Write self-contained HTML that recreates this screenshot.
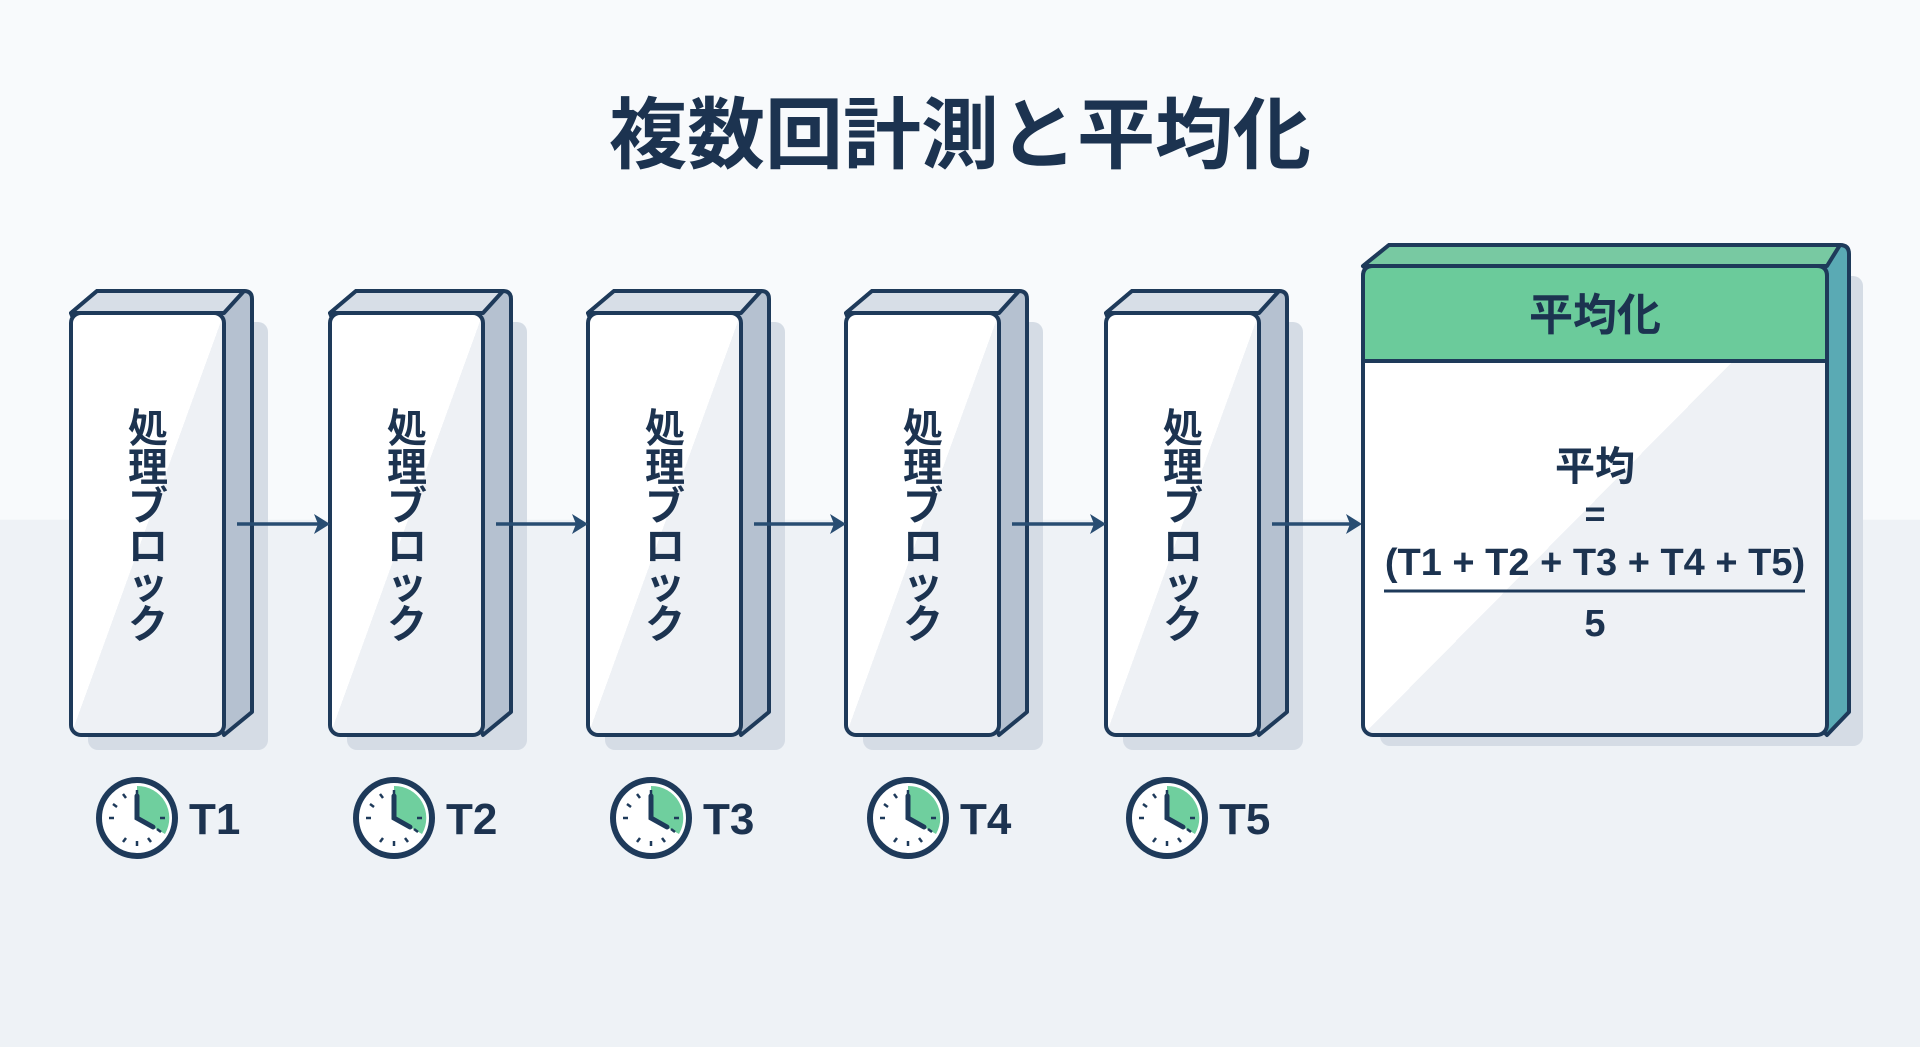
<!DOCTYPE html>
<html><head><meta charset="utf-8"><style>
html,body{margin:0;padding:0;width:1920px;height:1047px;overflow:hidden;}
body{background:linear-gradient(#f8fafc 0,#f8fafc 520px,#eef2f6 520px,#eef2f6 100%);}
text{font-family:"Liberation Sans","Noto Sans CJK JP",sans-serif;font-weight:bold;fill:#1c3350;}
</style></head><body>
<svg width="1920" height="1047" viewBox="0 0 1920 1047" xmlns="http://www.w3.org/2000/svg">
<defs>
<linearGradient id="g" x1="0" y1="0" x2="1" y2="1">
<stop offset="0.5" stop-color="#ffffff"/><stop offset="0.5" stop-color="#eef1f5"/></linearGradient>
<g id="blk">
<rect x="88" y="322" width="180" height="428" fill="#d5dce5" rx="10"/>
<path d="M71,313 L97,291 L244,291 Q252,291 252,299 L252,712 L224,735 Z" fill="#b5c1d0" stroke="#1e3a5a" stroke-width="4" stroke-linejoin="round"/>
<path d="M71,313 L97,291 L244,291 L224,313 Z" fill="#d7dee7" stroke="#1e3a5a" stroke-width="4" stroke-linejoin="round"/>
<rect x="71" y="313" width="153" height="422" rx="10" fill="url(#g)" stroke="#1e3a5a" stroke-width="4"/>
<g font-size="40" text-anchor="middle">
<text x="148" y="442">処</text><text x="148" y="481">理</text><text x="148" y="520">ブ</text><text x="148" y="560">ロ</text><text x="148" y="598">ッ</text><text x="148" y="638">ク</text>
</g>
</g>
<g id="clk">
<circle r="38" fill="#fff" stroke="#1e3a5a" stroke-width="6"/>
<path d="M0,0 L0,-32 A32,32 0 0 1 28,16 Z" fill="#6fcf9e"/>
<g stroke="#1e3a5a" stroke-width="2.5"><line x1="0" y1="-28" x2="0" y2="-23"/><line x1="28" y1="0" x2="23" y2="0"/><line x1="0" y1="28" x2="0" y2="23"/><line x1="-28" y1="0" x2="-23" y2="0"/><line x1="14" y1="24" x2="11" y2="20"/><line x1="-14" y1="24" x2="-11" y2="20"/><line x1="-24" y1="-14" x2="-20" y2="-11"/><line x1="-14" y1="-24" x2="-11" y2="-20"/><line x1="24" y1="14" x2="20" y2="11"/></g>
<path d="M0,-22 L0,0 L16,9" stroke="#1e3a5a" stroke-width="5" fill="none" stroke-linecap="round"/>
</g>
</defs>
<text x="960" y="162" font-size="78" text-anchor="middle">複数回計測と平均化</text>

<use href="#blk"/>
<use href="#blk" transform="translate(259,0)"/>
<use href="#blk" transform="translate(517,0)"/>
<use href="#blk" transform="translate(775,0)"/>
<use href="#blk" transform="translate(1035,0)"/>

<!-- arrows -->
<g stroke="#284d72" stroke-width="3.5">
<line x1="237" y1="524" x2="318" y2="524"/>
<line x1="496" y1="524" x2="576" y2="524"/>
<line x1="754" y1="524" x2="834" y2="524"/>
<line x1="1012" y1="524" x2="1094" y2="524"/>
<line x1="1272" y1="524" x2="1350" y2="524"/>
</g>
<g fill="#284d72">
<path d="M330,524 L314,514 L318,524 L314,534 Z"/>
<path d="M588,524 L572,514 L576,524 L572,534 Z"/>
<path d="M846,524 L830,514 L834,524 L830,534 Z"/>
<path d="M1106,524 L1090,514 L1094,524 L1090,534 Z"/>
<path d="M1362,524 L1346,514 L1350,524 L1346,534 Z"/>
</g>

<!-- final box -->
<rect x="1380" y="276" width="483" height="470" fill="#d5dce5" rx="10"/>
<g stroke="#1e3a5a" stroke-width="4" stroke-linejoin="round">
<path d="M1363,266 L1389,245 L1840,245 Q1849,245 1849,254 L1849,712 L1827,735 Z" fill="#5aaab4"/>
<path d="M1363,266 L1389,245 L1840,245 L1827,266 Z" fill="#78c9a2"/>
<rect x="1363" y="266" width="464" height="469" rx="10" fill="url(#g)"/>
<path d="M1363,361 L1363,276 Q1363,266 1373,266 L1817,266 Q1827,266 1827,276 L1827,361 Z" fill="#6bcb9b"/>
<line x1="1384" y1="591" x2="1805" y2="591" stroke-width="3"/>
</g>
<g text-anchor="middle">
<text x="1595" y="330" font-size="44" fill="#1c3a3a">平均化</text>
<text x="1595" y="480" font-size="40">平均</text>
<text x="1595" y="526" font-size="36">=</text>
<text x="1595" y="575" font-size="38">(T1 + T2 + T3 + T4 + T5)</text>
<text x="1595" y="636" font-size="38">5</text>
</g>

<!-- clocks -->
<use href="#clk" transform="translate(137,818)"/>
<use href="#clk" transform="translate(394,818)"/>
<use href="#clk" transform="translate(651,818)"/>
<use href="#clk" transform="translate(908,818)"/>
<use href="#clk" transform="translate(1167,818)"/>
<g font-size="44">
<text x="189" y="834">T1</text>
<text x="446" y="834">T2</text>
<text x="703" y="834">T3</text>
<text x="960" y="834">T4</text>
<text x="1219" y="834">T5</text>
</g>
</svg>
</body></html>
